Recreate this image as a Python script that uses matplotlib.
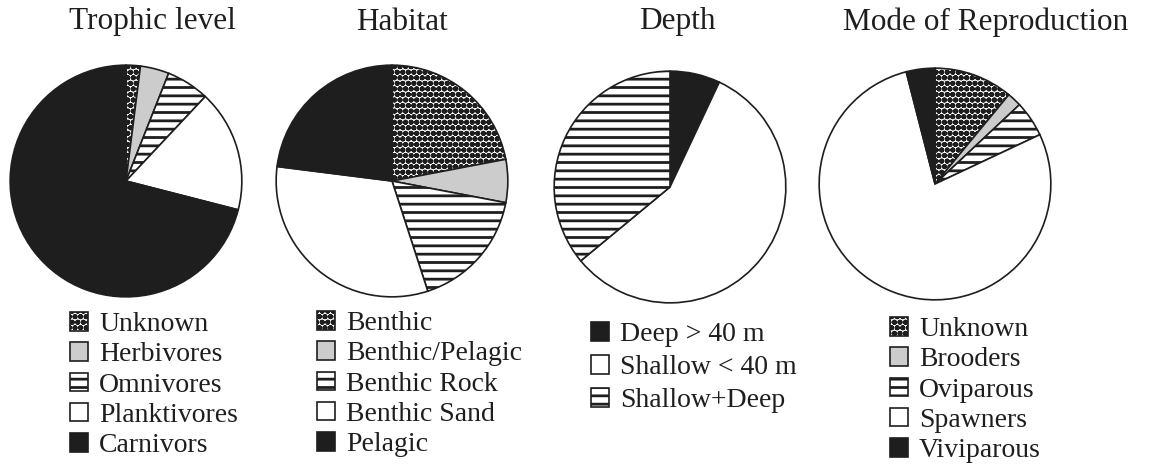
import matplotlib
matplotlib.use("Agg")
import matplotlib.pyplot as plt

plt.rcParams['font.family'] = ['Liberation Serif', 'DejaVu Serif']
plt.rcParams['hatch.linewidth'] = 2.0
plt.rcParams['hatch.color'] = '#1e1e1e'

# data (percent, clockwise from 12 o'clock)
titles = ["Trophic level", "Habitat", "Depth", "Mode of Reproduction"]

trophic_labels = ["Unknown", "Herbivores", "Omnivores", "Planktivores", "Carnivors"]
trophic_values = [2, 4, 6, 17, 71]

habitat_labels = ["Benthic", "Benthic/Pelagic", "Benthic Rock", "Benthic Sand", "Pelagic"]
habitat_values = [22, 6, 17, 32, 23]

depth_labels = ["Deep > 40 m", "Shallow < 40 m", "Shallow+Deep"]
depth_values = [7, 57, 36]

repro_labels = ["Unknown", "Brooders", "Oviparous", "Spawners", "Viviparous"]
repro_values = [11, 2, 5, 78, 4]

# fill styles per category type
styles = {
    "dots": dict(fc="white", hatch="ooo"),
    "gray": dict(fc="#cccccc", hatch=None),
    "lines": dict(fc="white", hatch="--"),
    "white": dict(fc="white", hatch=None),
    "black": dict(fc="#1e1e1e", hatch=None),
}
trophic_styles = ["dots", "gray", "lines", "white", "black"]
habitat_styles = ["dots", "gray", "lines", "white", "black"]
depth_styles = ["black", "white", "lines"]
repro_styles = ["dots", "gray", "lines", "white", "black"]

W, H = 1154, 465
fig = plt.figure(figsize=(W / 100, H / 100), dpi=100)

# (values, labels, styles, pie centre px, title x px, legend top-left px, row spacing)
panels = [
    (trophic_values, trophic_labels, trophic_styles, (126, 181), 152, (70, 312), 0.19),
    (habitat_values, habitat_labels, habitat_styles, (392, 181), 402, (317, 311), 0.19),
    (depth_values, depth_labels, depth_styles, (670, 187), 677, (591, 322), 0.29),
    (repro_values, repro_labels, repro_styles, (935, 184), 986, (890, 317), 0.19),
]
r = 117

for (vals, labels, sty, (cx, cy), tx, (lx, ly), sp), title in zip(panels, titles):
    ax = fig.add_axes([(cx - r) / W, 1 - (cy + r) / H, 2 * r / W, 2 * r / H])
    wedges, _ = ax.pie(vals, startangle=90, counterclock=False,
                       wedgeprops=dict(edgecolor="#1e1e1e", linewidth=1.2))
    for w, s in zip(wedges, sty):
        w.set_facecolor(styles[s]["fc"])
        if styles[s]["hatch"]:
            w.set_hatch(styles[s]["hatch"])
    ax.set_xlim(-1.01, 1.01)
    ax.set_ylim(-1.01, 1.01)
    ax.set_aspect("equal")
    ax.axis("off")

    fig.text(tx / W, 1 - 22 / H, title, ha="center", va="center", fontsize=22.5,
             color="#1e1e1e")

    fig.legend(wedges, labels, loc="upper left",
               bbox_to_anchor=(lx / W, 1 - ly / H), bbox_transform=fig.transFigure,
               frameon=False, fontsize=20, handlelength=0.65, handleheight=0.65,
               handletextpad=0.4, labelspacing=sp, borderpad=0, borderaxespad=0,
               labelcolor="#1e1e1e")

fig.savefig("out.png", dpi=100)
